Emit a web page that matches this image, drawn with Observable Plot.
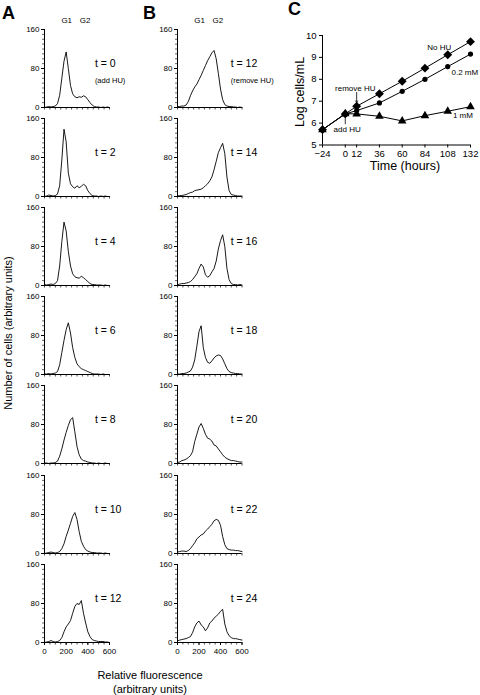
<!DOCTYPE html>
<html><head><meta charset="utf-8">
<script src="https://cdn.jsdelivr.net/npm/d3@7"></script>
<script src="https://cdn.jsdelivr.net/npm/@observablehq/plot@0.6"></script>
<style>
body{margin:0;background:#fff;}
#root{position:relative;width:480px;height:695px;font-family:"Liberation Sans",Arial,sans-serif;color:#000;overflow:hidden;background:#fff}
.abs{position:absolute;white-space:nowrap;line-height:1}
.letter{font-weight:bold;font-size:18px}
.rot{transform:translate(-50%,-50%) rotate(-90deg)}
.ctr{transform:translate(-50%,-50%)}
</style></head><body><div id="root"></div>
<script>
// ---- data ----
const fluor = [0,20,40,60,80,100,120,140,160,180,200,220,240,260,280,300,320,340,360,380,400,420,440,460,480,500,520,540,560,580,600];
const a_t0  = [0,1,2,1,2,3,8,25,60,95,114,80,45,28,22,20,22,21,24,22,16,10,5,2,1,1,0,1,0,1,0];
const a_t2  = [0,1,3,2,1,2,5,22,75,138,112,48,26,20,17,22,18,21,25,22,12,6,2,1,1,0,1,0,1,0,0];
const a_t4  = [2,1,2,3,2,4,10,40,90,130,112,70,40,24,18,16,15,19,16,12,8,4,2,2,1,1,1,0,1,0,0];
const a_t6  = [1,1,2,1,2,3,6,20,45,70,92,106,85,55,35,22,16,12,10,8,6,4,2,1,1,1,0,1,0,0,0];
const a_t8  = [1,1,0,1,1,2,5,15,30,48,64,78,90,94,65,35,18,9,6,5,3,2,1,1,0,1,0,0,1,0,0];
const a_t10 = [0,1,2,3,2,1,2,4,10,20,35,48,62,76,84,70,45,25,15,8,5,3,2,2,1,1,1,0,1,0,0];
const a_t12 = [0,1,2,4,2,1,2,4,10,22,32,38,45,60,74,80,78,86,60,40,22,12,6,4,3,2,2,2,1,1,0];
const b_t12 = [2,2,3,3,5,12,24,34,42,48,57,66,76,86,96,104,112,117,100,70,38,16,6,3,2,2,1,1,0,1,0];
const b_t14 = [1,2,2,3,4,6,8,9,12,13,14,15,18,22,26,32,40,55,72,90,100,109,88,40,12,4,3,2,1,1,1];
const b_t16 = [1,3,4,4,5,6,8,12,18,24,35,44,38,22,17,20,28,35,50,75,92,104,80,35,12,4,2,2,1,2,1];
const b_t18 = [1,1,2,2,3,5,7,15,30,58,88,100,55,35,25,23,28,34,38,40,39,32,22,12,6,4,3,2,2,1,1];
const b_t20 = [2,3,6,7,9,12,16,24,45,60,75,82,72,60,52,50,46,38,36,30,24,18,13,10,8,6,6,5,4,3,3];
const b_t22 = [3,4,5,5,4,6,10,16,22,30,34,38,40,46,50,55,60,67,70,68,58,35,18,10,8,7,7,6,6,5,4];
const b_t24 = [3,5,6,7,8,10,12,20,32,40,44,36,32,24,30,40,44,50,54,58,64,68,38,22,14,10,8,8,7,6,5];
const labelsA = ["t = 0","t = 2","t = 4","t = 6","t = 8","t = 10","t = 12"];
const labelsB = ["t = 12","t = 14","t = 16","t = 18","t = 20","t = 22","t = 24"];
const notesA = ["(add HU)"];
const notesB = ["(remove HU)"];
const phaseNames = ["G1","G2"];
const phasePos = [205,375];
const countTicks = [0,80,160];
const countMinor = [0,10,20,30,40,50,60,70,80,90,100,110,120,130,140,150,160];
const fluorTicks = [0,200,400,600];
const fluorMinor = [0,50,100,150,200,250,300,350,400,450,500,550,600];

const hours = [-24,0,12,36,60,84,108,132];
const noHU  = [5.7,6.42,6.77,7.34,7.91,8.51,9.12,9.72];
const hu02  = [5.7,6.42,6.57,6.92,7.45,8.0,8.58,9.15];
const hu1   = [5.7,6.43,6.42,6.31,6.1,6.34,6.54,6.75];
const logTicks = [5,6,7,8,9,10];
const annoText = ["No HU","0.2 mM","1 mM","remove HU","add HU"];
const annoX = [99,126,124,10.5,2];
const annoY = [9.46,8.30,6.37,7.56,5.71];
const arrowX = [12,0];
const arrowFrom = [7.40,5.97];
const arrowTo = [6.93,6.40];

// ---- layout ----
const root = document.getElementById("root");
const FONT = "Liberation Sans, Arial, Helvetica, sans-serif";
const svgStyle = `overflow:visible;background:transparent;max-width:none;font-family:${FONT};`;
function place(el, left, top) {
  const d = document.createElement("div");
  d.className = "abs"; d.style.left = left + "px"; d.style.top = top + "px";
  d.appendChild(el); root.appendChild(d); return d;
}
function addText(txt, left, top, cls, size) {
  const d = document.createElement("div");
  d.className = "abs " + (cls || "");
  d.style.left = left + "px"; d.style.top = top + "px";
  if (size) d.style.fontSize = size + "px";
  d.textContent = txt; root.appendChild(d); return d;
}

const histsA = [a_t0,a_t2,a_t4,a_t6,a_t8,a_t10,a_t12];
const histsB = [b_t12,b_t14,b_t16,b_t18,b_t20,b_t22,b_t24];
const ML = 28, MR = 48, MT = 4;
function hist(values, label, note, frameW, labelX, first, last) {
  const data = fluor.map((x, i) => ({x, y: values[i]}));
  const marks = [
    Plot.ruleX([0], {stroke: "black", strokeWidth: 1}),
    Plot.ruleY([0], {stroke: "black", strokeWidth: 1}),
    Plot.axisY(countMinor, {tickSize: 2, tickFormat: () => "", strokeWidth: 0.6, label: null}),
    Plot.axisY(countTicks, {tickSize: 3, tickPadding: 2, fontSize: 8, label: null}),
    Plot.axisX(fluorMinor, {tickSize: 2.5, tickFormat: () => "", strokeWidth: 0.7, label: null}),
    Plot.line(data, {x: "x", y: "y", stroke: "black", strokeWidth: 0.9}),
    Plot.text([label], {x: labelX, y: 90, text: d => d, textAnchor: "start", fontSize: 10.5})
  ];
  if (note) marks.push(Plot.text([note], {x: labelX, y: 55, text: d => d, textAnchor: "start", fontSize: 7.5}));
  if (first) marks.push(Plot.text(phaseNames, {x: (d, i) => phasePos[i], y: 178, text: d => d, fontSize: 8}));
  if (last) marks.push(Plot.axisX(fluorTicks, {tickSize: 3, tickPadding: 3, fontSize: 8, label: null}));
  return Plot.plot({
    width: ML + frameW + MR, height: MT + 78 + (last ? 16 : 4),
    marginLeft: ML, marginRight: MR, marginTop: MT, marginBottom: last ? 16 : 4,
    x: {domain: [0, 600], label: null}, y: {domain: [0, 160], label: null},
    style: svgStyle,
    marks
  });
}
for (let i = 0; i < 7; i++) {
  const base = 107 + 89.1 * i;
  place(hist(histsA[i], labelsA[i], i === 0 ? notesA[0] : null, 65, 465, i === 0, i === 6), 43.5 - ML, base - 78 - MT);
  place(hist(histsB[i], labelsB[i], i === 0 ? notesB[0] : null, 64.5, 495, i === 0, i === 6), 177 - ML, base - 78 - MT);
}

// panel C
const series = [
  {vals: noHU, symbol: "diamond2", r: 4.0},
  {vals: hu02, symbol: "circle", r: 2.6},
  {vals: hu1, symbol: "triangle", r: 3.2}
];
const cMarks = [
  Plot.ruleX([-24], {stroke: "black"}),
  Plot.ruleY([5], {stroke: "black"}),
  Plot.axisY(logTicks, {tickSize: 3, tickPadding: 3, fontSize: 9.5, label: null}),
  Plot.axisX(hours, {tickSize: 3, tickPadding: 2, fontSize: 9.5, label: null})
];
for (const s of series) {
  const d = hours.map((h, i) => ({h, v: s.vals[i]}));
  cMarks.push(Plot.line(d, {x: "h", y: "v", stroke: "black", strokeWidth: 1}));
  cMarks.push(Plot.dot(d, {x: "h", y: "v", symbol: s.symbol, r: s.r, fill: "black", stroke: "none"}));
}
const annoData = annoText.map((t, i) => ({t, x: annoX[i], y: annoY[i]}));
cMarks.push(Plot.text(annoData, {x: "x", y: "y", text: "t", fontSize: 8, fill: "black"}));
const arrowData = arrowX.map((x, i) => ({x, y1: arrowFrom[i], y2: arrowTo[i]}));
cMarks.push(Plot.arrow(arrowData, {x1: "x", x2: "x", y1: "y1", y2: "y2", stroke: "black", strokeWidth: 0.8, headLength: 4}));
const cPlot = Plot.plot({
  width: 40 + 148 + 10, height: 10 + 109.5 + 30,
  marginLeft: 40, marginRight: 10, marginTop: 10, marginBottom: 30,
  x: {domain: [-24, 132], label: null}, y: {domain: [5, 10], label: null},
  style: svgStyle,
  marks: cMarks
});
place(cPlot, 322 - 40, 34.5 - 10);

// titles & panel letters
addText("A", 2, 4, "letter");
addText("B", 143, 4, "letter");
addText("C", 288, 0, "letter");
addText("Log cells/mL", 300, 92, "rot", 12.5);
addText("Time (hours)", 405, 166, "ctr", 12.5);
addText("Number of cells (arbitrary units)", 8, 333, "rot", 11);
addText("Relative fluorescence", 150, 675, "ctr", 11);
addText("(arbitrary units)", 150, 689, "ctr", 11);
</script></body></html>
